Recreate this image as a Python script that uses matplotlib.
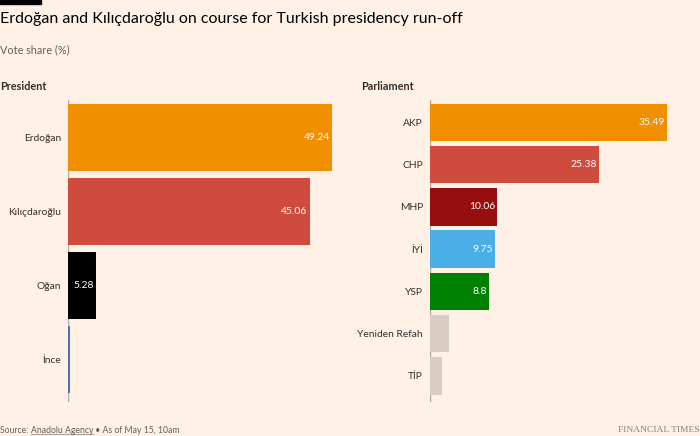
import matplotlib.pyplot as plt
from matplotlib.lines import Line2D

# Turkish election 2023, Anadolu Agency, as of May 15 10am
pres_names = ["Erdoğan", "Kılıçdaroğlu", "Oğan", "İnce"]
pres_values = [49.24, 45.06, 5.28, 0.44]
pres_colors = ["#F08F00", "#CF4B3D", "#000000", "#4A72C2"]
pres_labels = ["49.24", "45.06", "5.28", ""]

parl_names = ["AKP", "CHP", "MHP", "İYİ", "YSP", "Yeniden Refah", "TİP"]
parl_values = [35.49, 25.38, 10.06, 9.75, 8.8, 2.8, 1.75]
parl_colors = ["#F08F00", "#CF4B3D", "#960E0E", "#4BAEE6", "#008000", "#D9CCC3", "#D9CCC3"]
parl_labels = ["35.49", "25.38", "10.06", "9.75", "8.8", "", ""]

BG = "#FFF1E5"
TEXT = "#33302E"
GREY = "#66605C"
FONT = ["Lato", "DejaVu Sans"]

plt.rcParams["font.family"] = FONT

W, H = 700, 436
fig = plt.figure(figsize=(W / 100, H / 100), dpi=100, facecolor=BG)


def px_axes(x0, y0, x1, y1):
    # pixel box (top-left origin) -> figure axes
    return fig.add_axes([x0 / W, 1 - y1 / H, (x1 - x0) / W, (y1 - y0) / H])


def draw_panel(ax, names, values, colors, labels, xmax, height, ylim):
    ax.set_facecolor(BG)
    pos = list(range(len(names)))
    ax.axvline(0, color="#B3A9A0", linewidth=1, zorder=1)
    ax.barh(pos, values, height=height, color=colors, zorder=2)
    for p, v, lab in zip(pos, values, labels):
        if lab:
            ax.annotate(lab, (v, p), xytext=(-1.5, 0), textcoords="offset points",
                        ha="right", va="center", color="white", fontsize=7.5)
    ax.set_xlim(0, xmax)
    ax.set_ylim(*ylim)
    ax.set_yticks(pos)
    ax.set_yticklabels(names, fontsize=7.4, color=TEXT)
    ax.tick_params(axis="y", length=0, pad=5)
    ax.set_xticks([])
    for s in ax.spines.values():
        s.set_visible(False)


ax1 = px_axes(68, 100, 336, 402)
draw_panel(ax1, pres_names, pres_values, pres_colors, pres_labels,
           50, 0.91, (3.57, -0.51))

ax2 = px_axes(430, 100, 697, 402)
draw_panel(ax2, parl_names, parl_values, parl_colors, parl_labels,
           40, 0.89, (6.62, -0.53))

# black tag at the top
fig.patches.append(plt.Rectangle((0, 1 - 4 / H), 41 / W, 4 / H,
                                 transform=fig.transFigure, color="#000000"))

fig.text(0, 1 - 19 / H, "Erdoğan and Kılıçdaroğlu on course for Turkish presidency run-off",
         fontsize=11.5, color="#000000", va="center", ha="left")
fig.text(0, 1 - 50 / H, "Vote share (%)", fontsize=7.8, color=GREY, va="center")
fig.text(0, 1 - 87 / H, "President", fontsize=7.8, fontweight="bold", color=TEXT, va="center")
fig.text(361 / W, 1 - 87 / H, "Parliament", fontsize=7.8, fontweight="bold", color=TEXT, va="center")

# source line, with the agency name underlined
y_src = 1 - 430 / H
fig.canvas.draw()
rend = fig.canvas.get_renderer()
x = 0
for part, underline in [("Source: ", False), ("Anadolu Agency", True),
                        (" • As of May 15, 10am", False)]:
    t = fig.text(x / W, y_src, part, fontsize=6.2, color=GREY, va="center")
    bb = t.get_window_extent(rend)
    if underline:
        fig.add_artist(Line2D([bb.x0 / W, bb.x1 / W], [(bb.y0 + 0.5) / H] * 2,
                              transform=fig.transFigure, color="#A9A29D", linewidth=0.8))
    x = bb.x1

fig.text(1, y_src, "FINANCIAL TIMES", fontsize=6.8, color="#8A827C",
         family=["Liberation Serif", "DejaVu Serif"], ha="right", va="center")

fig.savefig("out.png", dpi=100, facecolor=BG)
